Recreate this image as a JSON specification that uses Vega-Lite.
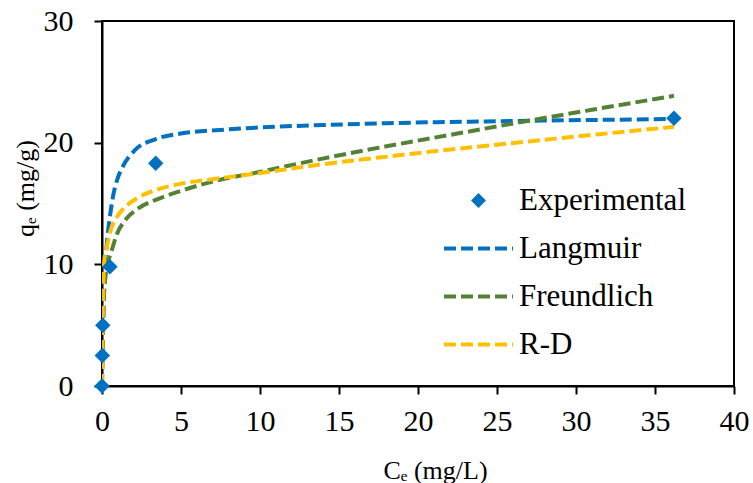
{
  "$schema": "https://vega.github.io/schema/vega-lite/v6.json",
  "width": 632,
  "height": 365,
  "autosize": "none",
  "padding": {"left": 102, "top": 21, "right": 19, "bottom": 97},
  "background": "white",
  "config": {
    "font": "Liberation Serif",
    "view": {"stroke": "black", "strokeWidth": 2},
    "axis": {
      "grid": false,
      "domainColor": "black",
      "domainWidth": 2,
      "tickColor": "black",
      "tickWidth": 2,
      "tickSize": 8,
      "labelFont": "Liberation Serif",
      "labelFontSize": 30,
      "labelColor": "black",
      "labelFlush": false,
      "labelOverlap": false,
      "titleFont": "Liberation Serif",
      "titleFontSize": 26,
      "titleColor": "black",
      "titleFontWeight": "normal"
    }
  },
  "data": {
    "values": [
      {"series": "Experimental", "C": 0, "q": 0},
      {"series": "Experimental", "C": 0.02, "q": 2.5},
      {"series": "Experimental", "C": 0.05, "q": 5},
      {"series": "Experimental", "C": 0.5, "q": 9.8},
      {"series": "Experimental", "C": 3.4, "q": 18.3},
      {"series": "Experimental", "C": 36.2, "q": 22},

      {"series": "Langmuir", "C": 0, "q": 0},
      {"series": "Langmuir", "C": 0.02, "q": 1.4},
      {"series": "Langmuir", "C": 0.05, "q": 3.3},
      {"series": "Langmuir", "C": 0.15, "q": 8.5},
      {"series": "Langmuir", "C": 0.3, "q": 11.6},
      {"series": "Langmuir", "C": 0.5, "q": 13.9},
      {"series": "Langmuir", "C": 0.7, "q": 15.6},
      {"series": "Langmuir", "C": 1.0, "q": 17.1},
      {"series": "Langmuir", "C": 1.3, "q": 18.0},
      {"series": "Langmuir", "C": 2.1, "q": 19.4},
      {"series": "Langmuir", "C": 3.4, "q": 20.3},
      {"series": "Langmuir", "C": 5, "q": 20.75},
      {"series": "Langmuir", "C": 7.5, "q": 21.05},
      {"series": "Langmuir", "C": 10, "q": 21.25},
      {"series": "Langmuir", "C": 14, "q": 21.45},
      {"series": "Langmuir", "C": 18, "q": 21.6},
      {"series": "Langmuir", "C": 22, "q": 21.7},
      {"series": "Langmuir", "C": 27, "q": 21.8},
      {"series": "Langmuir", "C": 32, "q": 21.88},
      {"series": "Langmuir", "C": 36.2, "q": 21.95},

      {"series": "Freundlich", "C": 0, "q": 0},
      {"series": "Freundlich", "C": 0.02, "q": 3},
      {"series": "Freundlich", "C": 0.05, "q": 5.5},
      {"series": "Freundlich", "C": 0.15, "q": 8},
      {"series": "Freundlich", "C": 0.38, "q": 10.1},
      {"series": "Freundlich", "C": 0.63, "q": 11.2},
      {"series": "Freundlich", "C": 0.95, "q": 12.5},
      {"series": "Freundlich", "C": 1.45, "q": 13.6},
      {"series": "Freundlich", "C": 2.3, "q": 14.6},
      {"series": "Freundlich", "C": 3.4, "q": 15.3},
      {"series": "Freundlich", "C": 4.9, "q": 16.0},
      {"series": "Freundlich", "C": 7, "q": 16.8},
      {"series": "Freundlich", "C": 10, "q": 17.6},
      {"series": "Freundlich", "C": 13.8, "q": 18.65},
      {"series": "Freundlich", "C": 18, "q": 19.7},
      {"series": "Freundlich", "C": 22.5, "q": 20.75},
      {"series": "Freundlich", "C": 27, "q": 21.8},
      {"series": "Freundlich", "C": 31, "q": 22.7},
      {"series": "Freundlich", "C": 36.2, "q": 23.85},

      {"series": "R-D", "C": 0, "q": 0},
      {"series": "R-D", "C": 0.02, "q": 3},
      {"series": "R-D", "C": 0.05, "q": 6},
      {"series": "R-D", "C": 0.15, "q": 10.4},
      {"series": "R-D", "C": 0.3, "q": 11.4},
      {"series": "R-D", "C": 0.5, "q": 12.6},
      {"series": "R-D", "C": 0.95, "q": 13.9},
      {"series": "R-D", "C": 1.45, "q": 14.7},
      {"series": "R-D", "C": 2.3, "q": 15.5},
      {"series": "R-D", "C": 3.4, "q": 16.1},
      {"series": "R-D", "C": 4.9, "q": 16.6},
      {"series": "R-D", "C": 7, "q": 17.0},
      {"series": "R-D", "C": 10, "q": 17.5},
      {"series": "R-D", "C": 13.8, "q": 18.2},
      {"series": "R-D", "C": 18, "q": 18.85},
      {"series": "R-D", "C": 22.5, "q": 19.5},
      {"series": "R-D", "C": 27, "q": 20.1},
      {"series": "R-D", "C": 31.5, "q": 20.7},
      {"series": "R-D", "C": 36.2, "q": 21.3}
    ]
  },
  "layer": [
    {
      "transform": [{"filter": "datum.series !== 'Experimental'"}],
      "mark": {"type": "line", "strokeDash": [12, 5], "strokeWidth": 4, "interpolate": "monotone", "clip": true},
      "encoding": {
        "x": {"field": "C", "type": "quantitative", "scale": {"domain": [0, 40], "nice": false},
              "axis": {"values": [0, 5, 10, 15, 20, 25, 30, 35, 40], "title": "Cₑ (mg/L)", "labelPadding": 12, "titlePadding": 21, "titleX": 333, "titleAlign": "center"}},
        "y": {"field": "q", "type": "quantitative", "scale": {"domain": [0, 30], "nice": false},
              "axis": {"values": [0, 10, 20, 30], "title": "qₑ (mg/g)", "labelPadding": 21, "titlePadding": 5, "titleY": 167, "titleAlign": "center"}},
        "color": {
          "field": "series", "type": "nominal",
          "scale": {"domain": ["Experimental", "Langmuir", "Freundlich", "R-D"], "range": ["#0070C0", "#0070C0", "#548235", "#FFC000"]},
          "legend": {
            "orient": "none", "legendX": 361, "legendY": 164, "title": null,
            "labelFont": "Liberation Serif", "labelFontSize": 31, "labelColor": "black", "labelLimit": 0,
            "symbolSize": 225, "rowPadding": 16, "labelOffset": 25, "padding": 0,
            "encode": {
              "symbols": {
                "update": {
                  "shape": {"signal": "datum.value === 'Experimental' ? 'diamond' : 'M-4.6,0H4.6'"},
                  "fill": {"signal": "datum.value === 'Experimental' ? '#0070C0' : 'transparent'"},
                  "stroke": {"signal": "datum.value === 'Experimental' ? 'transparent' : datum.value === 'Langmuir' ? '#0070C0' : datum.value === 'Freundlich' ? '#548235' : '#FFC000'"},
                  "strokeWidth": {"signal": "datum.value === 'Experimental' ? 0 : 4"},
                  "strokeDash": {"signal": "datum.value === 'Experimental' ? [1, 0] : [12, 5]"},
                  "opacity": {"value": 1}
                }
              }
            }
          }
        }
      }
    },
    {
      "transform": [{"filter": "datum.series === 'Experimental'"}],
      "mark": {"type": "point", "shape": "diamond", "filled": true, "size": 240, "color": "#0070C0", "opacity": 1},
      "encoding": {
        "x": {"field": "C", "type": "quantitative"},
        "y": {"field": "q", "type": "quantitative"}
      }
    }
  ]
}
